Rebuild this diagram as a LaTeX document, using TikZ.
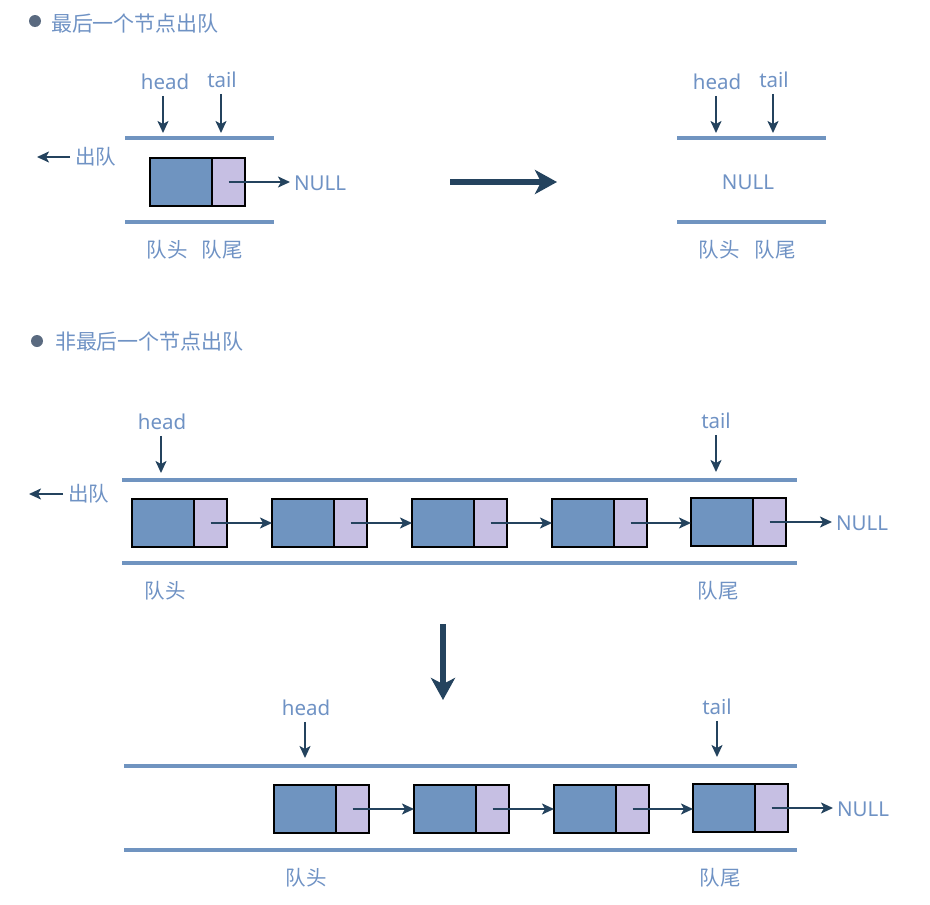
\documentclass[tikz,border=0pt]{standalone}
\usepackage{fontspec}
\setmainfont{Noto Sans}
\newfontfamily\cjk{Noto Sans CJK SC}
\usetikzlibrary{arrows.meta}
\definecolor{txtblue}{HTML}{6F92C4}
\definecolor{lineblue}{HTML}{7094C0}
\definecolor{datafill}{HTML}{6F94C0}
\definecolor{ptrfill}{HTML}{C6BFE3}
\definecolor{arrowdark}{HTML}{24435E}
\definecolor{bulletc}{HTML}{5A6A80}
\tikzset{
  lbl/.style={text=txtblue, font=\fontsize{20.5}{24}\selectfont, inner sep=0pt, outer sep=0pt},
  cjklbl/.style={text=txtblue, font=\cjk\fontsize{20.5}{24}\selectfont, inner sep=0pt, outer sep=0pt},
  datab/.style={draw=black, line width=2.5pt, fill=datafill, minimum width=62pt, minimum height=48pt, inner sep=0pt, outer sep=0pt},
  ptrb/.style={draw=black, line width=2.5pt, fill=ptrfill, minimum width=33pt, minimum height=48pt, inner sep=0pt, outer sep=0pt},
  link/.style={draw=arrowdark, line width=2pt, -{Stealth[length=12pt,width=11pt,inset=3pt]}},
  nulllink/.style={link, shorten >=4pt},
  pointer/.style={draw=arrowdark, line width=2pt, -{Stealth[length=12pt,width=11pt,inset=3pt]}},
  bigarrow/.style={draw=arrowdark, line width=5.5pt, -{Stealth[length=22pt,width=24pt,inset=6pt]}},
  rail/.style={draw=lineblue, line width=4pt},
  bulletdot/.style={circle, fill=bulletc, minimum size=12pt, inner sep=0pt},
}
\newcommand{\qnode}[3]{%
  \node[datab, anchor=west] (#1d) at (#2,#3) {};
  \node[ptrb, anchor=west] (#1p) at (#1d.east) {};
}
\begin{document}
\begin{tikzpicture}[x=1pt,y=-1pt]
\useasboundingbox (0,0) rectangle (930,905);
% ---------- titles
\node[bulletdot] (b1) at (35,21) {};
\node[cjklbl, anchor=west, font=\cjk\fontsize{21}{24}\selectfont] (t1) at (51,24) {最后一个节点出队};
\node[bulletdot] (b2) at (37,341) {};
\node[cjklbl, anchor=west, font=\cjk\fontsize{21}{24}\selectfont] (t2) at (55,342) {非最后一个节点出队};

% ---------- section 1 left
\coordinate (r1a) at (125,138); \coordinate (r1b) at (274,138);
\coordinate (r1c) at (125,222); \coordinate (r1d) at (274,222);
\draw[rail] (r1a) -- (r1b);
\draw[rail] (r1c) -- (r1d);
\node[lbl] (h1) at (165,82) {head};
\node[lbl] (tl1) at (222,80) {tail};
\coordinate (h1e) at (163,133); \coordinate (tl1e) at (221,133);
\draw[pointer] (h1.south -| h1e) ++(0,6) -- (h1e);
\draw[pointer] (tl1.south -| tl1e) ++(0,6) -- (tl1e);
\qnode{s1}{150}{182}
\node[lbl, anchor=west] (null1) at (294,183) {NULL};
\draw[nulllink] (s1p.center) -- (s1p.center -| null1.west);
\node[cjklbl, anchor=west] (out1) at (75,157) {出队};
\coordinate (out1e) at (37,157);
\draw[pointer] (out1.west) ++(-5,0) -- (out1e);
\node[cjklbl] (qh1) at (167,250) {队头};
\node[cjklbl] (qt1) at (222,250) {队尾};

% ---------- transition arrow
\coordinate (ba1) at (450,182); \coordinate (ba2) at (557,182);
\draw[bigarrow] (ba1) -- (ba2);

% ---------- section 1 right
\coordinate (r2a) at (677,138); \coordinate (r2b) at (826,138);
\coordinate (r2c) at (677,222); \coordinate (r2d) at (826,222);
\draw[rail] (r2a) -- (r2b);
\draw[rail] (r2c) -- (r2d);
\node[lbl] (h2) at (717,82) {head};
\node[lbl] (tl2) at (774,80) {tail};
\coordinate (h2e) at (716,133); \coordinate (tl2e) at (773,133);
\draw[pointer] (h2.south -| h2e) ++(0,6) -- (h2e);
\draw[pointer] (tl2.south -| tl2e) ++(0,6) -- (tl2e);
\node[lbl] (null2) at (748,182) {NULL};
\node[cjklbl] (qh2) at (719,250) {队头};
\node[cjklbl] (qt2) at (775,250) {队尾};

% ---------- section 2 before
\coordinate (r3a) at (122,480); \coordinate (r3b) at (797,480);
\coordinate (r3c) at (122,563); \coordinate (r3d) at (797,563);
\draw[rail] (r3a) -- (r3b);
\draw[rail] (r3c) -- (r3d);
\node[lbl] (h3) at (162,422) {head};
\node[lbl] (tl3) at (716,421) {tail};
\coordinate (h3e) at (161,473); \coordinate (tl3e) at (716,472);
\draw[pointer] (h3.south -| h3e) ++(0,6) -- (h3e);
\draw[pointer] (tl3.south -| tl3e) ++(0,6) -- (tl3e);
\qnode{a1}{132}{523}
\qnode{a2}{272}{523}
\qnode{a3}{412}{523}
\qnode{a4}{552}{523}
\qnode{a5}{691}{522}
\draw[link] (a1p.center) -- (a2d.west);
\draw[link] (a2p.center) -- (a3d.west);
\draw[link] (a3p.center) -- (a4d.west);
\draw[link] (a4p.center) -- (a4p.center -| a5d.west);
\node[lbl, anchor=west] (null3) at (836,523) {NULL};
\draw[nulllink] (a5p.center) -- (a5p.center -| null3.west);
\node[cjklbl, anchor=west] (out3) at (68,494) {出队};
\coordinate (out3e) at (29,494);
\draw[pointer] (out3.west) ++(-5,0) -- (out3e);
\node[cjklbl] (qh3) at (165,591) {队头};
\node[cjklbl] (qt3) at (718,591) {队尾};

% ---------- transition arrow down
\coordinate (bd1) at (443,624); \coordinate (bd2) at (443,700);
\draw[bigarrow] (bd1) -- (bd2);

% ---------- section 2 after
\coordinate (r4a) at (124,766); \coordinate (r4b) at (797,766);
\coordinate (r4c) at (124,850); \coordinate (r4d) at (797,850);
\draw[rail] (r4a) -- (r4b);
\draw[rail] (r4c) -- (r4d);
\node[lbl] (h4) at (306,708) {head};
\node[lbl] (tl4) at (717,707) {tail};
\coordinate (h4e) at (305,758); \coordinate (tl4e) at (717,757);
\draw[pointer] (h4.south -| h4e) ++(0,6) -- (h4e);
\draw[pointer] (tl4.south -| tl4e) ++(0,6) -- (tl4e);
\qnode{c1}{274}{809}
\qnode{c2}{414}{809}
\qnode{c3}{554}{809}
\qnode{c4}{693}{808}
\draw[link] (c1p.center) -- (c2d.west);
\draw[link] (c2p.center) -- (c3d.west);
\draw[link] (c3p.center) -- (c3p.center -| c4d.west);
\node[lbl, anchor=west] (null4) at (837,809) {NULL};
\draw[nulllink] (c4p.center) -- (c4p.center -| null4.west);
\node[cjklbl] (qh4) at (306,878) {队头};
\node[cjklbl] (qt4) at (720,878) {队尾};
\end{tikzpicture}
\end{document}
